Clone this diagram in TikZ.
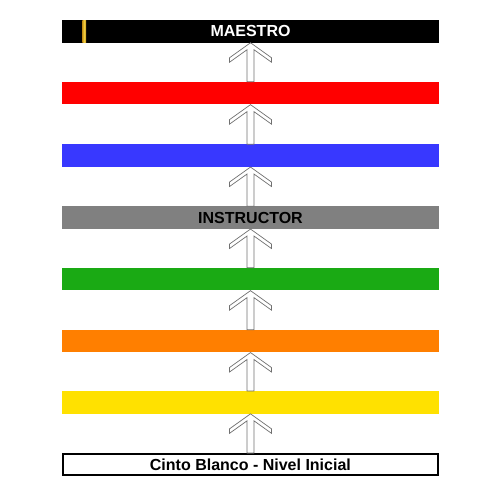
\documentclass[tikz,border=0pt]{standalone}
\usepackage{fontspec}
\setmainfont{Liberation Sans}
\usetikzlibrary{calc}
\definecolor{cred}{HTML}{FF0000}
\definecolor{cblue}{HTML}{3838FF}
\definecolor{cgray}{HTML}{808080}
\definecolor{cgreen}{HTML}{1AAA14}
\definecolor{corange}{HTML}{FF7F00}
\definecolor{cyellow}{HTML}{FFE100}
\definecolor{cgold}{HTML}{C8951A}
\definecolor{cgoldlight}{HTML}{F2D040}
\definecolor{arrowline}{HTML}{707070}
\tikzset{
  beltbar/.style={rectangle, inner sep=0pt, minimum width=377pt, minimum height=22.5pt,
    font=\fontsize{16}{19}\selectfont\bfseries},
  whitebox/.style={rectangle, inner sep=0pt, minimum width=375pt, minimum height=21pt,
    draw=black, line width=1.5pt, fill=white, font=\fontsize{16}{19}\selectfont\bfseries},
  uparrow/.style={draw=arrowline, line width=0.7pt, fill=white, line join=miter}
}
\newcommand{\beltarrow}[2]{%
  \draw[uparrow] ($(#1.north)+(-3.5,0)$) -- ($(#2.south)+(-3.5,7)$)
    -- ($(#2.south)+(-21,19.5)$) -- ($(#2.south)+(-21,15)$) -- (#2.south)
    -- ($(#2.south)+(21,15)$) -- ($(#2.south)+(21,19.5)$)
    -- ($(#2.south)+(3.5,7)$) -- ($(#1.north)+(3.5,0)$) -- cycle;}
\begin{document}
\begin{tikzpicture}[x=1pt,y=-1pt]
\useasboundingbox (0,0) rectangle (500,500);
\node[beltbar, fill=black, text=white] (maestro) at (250.5,31.3) {MAESTRO};
\shade[left color=cgold, right color=cgold, middle color=cgoldlight] (82.3,20.05) rectangle (86,42.55);
\node[beltbar, fill=cred] (red) at (250.5,93.2) {};
\node[beltbar, fill=cblue] (blue) at (250.5,155.6) {};
\node[beltbar, fill=cgray] (instructor) at (250.5,217.6) {INSTRUCTOR};
\node[beltbar, fill=cgreen] (green) at (250.5,279.2) {};
\node[beltbar, fill=corange] (orange) at (250.5,341.1) {};
\node[beltbar, fill=cyellow] (yellow) at (250.5,402.4) {};
\node[whitebox] (white) at (250.4,464.3) {Cinto Blanco - Nivel Inicial};
\beltarrow{white}{yellow}
\beltarrow{yellow}{orange}
\beltarrow{orange}{green}
\beltarrow{green}{instructor}
\beltarrow{instructor}{blue}
\beltarrow{blue}{red}
\beltarrow{red}{maestro}
\end{tikzpicture}
\end{document}
